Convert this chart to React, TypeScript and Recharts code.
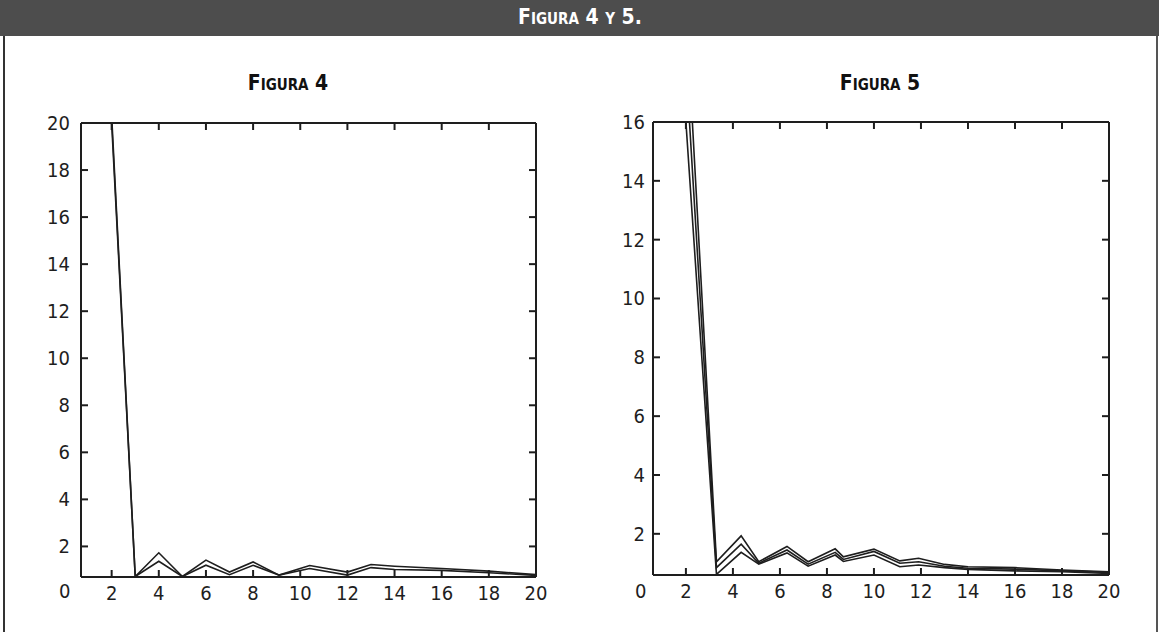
import React from 'react'
import { LineChart, Line, XAxis, YAxis } from 'recharts'

// Figura 4: two curves
const fig4Upper = [
  { x: 2, y: 20.3 }, { x: 3, y: 0.72 }, { x: 4, y: 1.73 }, { x: 5, y: 0.72 },
  { x: 6, y: 1.42 }, { x: 7, y: 0.91 }, { x: 8, y: 1.34 }, { x: 9.1, y: 0.78 },
  { x: 10.4, y: 1.19 }, { x: 12, y: 0.91 }, { x: 13, y: 1.23 }, { x: 14, y: 1.16 },
  { x: 16, y: 1.06 }, { x: 18, y: 0.95 }, { x: 20, y: 0.8 },
]
const fig4Lower = [
  { x: 2, y: 20 }, { x: 3, y: 0.72 }, { x: 4, y: 1.37 }, { x: 5, y: 0.72 },
  { x: 6, y: 1.2 }, { x: 7, y: 0.8 }, { x: 8, y: 1.2 }, { x: 9.1, y: 0.78 },
  { x: 10.4, y: 1.06 }, { x: 12, y: 0.78 }, { x: 13, y: 1.1 }, { x: 14, y: 1.02 },
  { x: 16, y: 0.98 }, { x: 18, y: 0.88 }, { x: 20, y: 0.77 },
]

// Figura 5: three curves
const fig5A = [
  { x: 2, y: 20 }, { x: 3.3, y: 1.05 }, { x: 4.35, y: 1.93 }, { x: 5.1, y: 1.05 },
  { x: 6.3, y: 1.57 }, { x: 7.2, y: 1.05 }, { x: 8.35, y: 1.49 }, { x: 8.7, y: 1.22 },
  { x: 10, y: 1.48 }, { x: 11.1, y: 1.08 }, { x: 11.9, y: 1.17 }, { x: 13, y: 0.96 },
  { x: 14, y: 0.88 }, { x: 16, y: 0.85 }, { x: 18, y: 0.77 }, { x: 20, y: 0.71 },
]
const fig5B = [
  { x: 2, y: 18 }, { x: 3.3, y: 0.85 }, { x: 4.35, y: 1.65 }, { x: 5.1, y: 1.0 },
  { x: 6.3, y: 1.45 }, { x: 7.2, y: 0.97 }, { x: 8.35, y: 1.37 }, { x: 8.7, y: 1.13 },
  { x: 10, y: 1.4 }, { x: 11.1, y: 1.0 }, { x: 11.9, y: 1.05 }, { x: 13, y: 0.9 },
  { x: 14, y: 0.83 }, { x: 16, y: 0.8 }, { x: 18, y: 0.74 }, { x: 20, y: 0.69 },
]
const fig5C = [
  { x: 2, y: 16 }, { x: 3.3, y: 0.62 }, { x: 4.35, y: 1.37 }, { x: 5.1, y: 0.97 },
  { x: 6.3, y: 1.35 }, { x: 7.2, y: 0.9 }, { x: 8.35, y: 1.28 }, { x: 8.7, y: 1.06 },
  { x: 10, y: 1.28 }, { x: 11.1, y: 0.88 }, { x: 11.9, y: 0.94 }, { x: 13, y: 0.85 },
  { x: 14, y: 0.79 }, { x: 16, y: 0.74 }, { x: 18, y: 0.71 }, { x: 20, y: 0.65 },
]

const xTicks = [2, 4, 6, 8, 10, 12, 14, 16, 18, 20]
const yTicks4 = [2, 4, 6, 8, 10, 12, 14, 16, 18, 20]
const yTicks5 = [2, 4, 6, 8, 10, 12, 14, 16]

const INK = '#1e1e1e'
const FONT = '"DejaVu Sans", sans-serif'
const textStyle = { fontStretch: 'condensed' } as React.CSSProperties

const BottomTick = (props: any) => {
  const { x, y, payload } = props
  return (
    <g>
      <line x1={x} y1={y} x2={x} y2={y - 7} stroke={INK} strokeWidth={2} />
      <text x={x} y={y + 23} textAnchor="middle" fontSize={20} fontFamily={FONT} style={textStyle} fill={INK}>
        {payload.value}
      </text>
    </g>
  )
}
const TopTick = (props: any) => {
  const { x, y } = props
  return <line x1={x} y1={y} x2={x} y2={y + 7} stroke={INK} strokeWidth={2} />
}
const leftTick = (gap: number) => (props: any) => {
  const { x, y, payload } = props
  return (
    <g>
      <line x1={x} y1={y} x2={x + 7} y2={y} stroke={INK} strokeWidth={2} />
      <text x={x - gap} y={y + 7} textAnchor="end" fontSize={20} fontFamily={FONT} style={textStyle} fill={INK}>
        {payload.value}
      </text>
    </g>
  )
}
const RightTick = (props: any) => {
  const { x, y } = props
  return <line x1={x} y1={y} x2={x - 7} y2={y} stroke={INK} strokeWidth={2} />
}

function Frame({ xMin, yMin, yMax, yTicks, gap }: any) {
  return [
    <XAxis key="xb" xAxisId="b" type="number" dataKey="x" domain={[xMin, 20]} ticks={xTicks}
      allowDataOverflow height={1} tickSize={0} tickMargin={0} interval={0} tickLine={false}
      axisLine={{ stroke: INK, strokeWidth: 2 }} tick={BottomTick} />,
    <XAxis key="xt" xAxisId="t" orientation="top" type="number" dataKey="x" domain={[xMin, 20]} ticks={xTicks}
      allowDataOverflow height={1} tickSize={0} tickMargin={0} interval={0} tickLine={false}
      axisLine={{ stroke: INK, strokeWidth: 2 }} tick={TopTick} />,
    <YAxis key="yl" yAxisId="l" type="number" domain={[yMin, yMax]} ticks={yTicks}
      allowDataOverflow width={1} tickSize={0} tickMargin={0} interval={0} tickLine={false}
      axisLine={{ stroke: INK, strokeWidth: 2 }} tick={leftTick(gap)} />,
    <YAxis key="yr" yAxisId="r" orientation="right" type="number" domain={[yMin, yMax]} ticks={yTicks}
      allowDataOverflow width={1} tickSize={0} tickMargin={0} interval={0} tickLine={false}
      axisLine={{ stroke: INK, strokeWidth: 2 }} tick={RightTick} />,
  ]
}

const titleStyle: React.CSSProperties = {
  position: 'absolute',
  fontFamily: FONT,
  fontStretch: 'condensed',
  fontWeight: 700,
  fontVariant: 'small-caps',
  whiteSpace: 'nowrap',
  transform: 'translateX(-50%)',
}

export default function App() {
  const lineProps = {
    type: 'linear' as const,
    dataKey: 'y',
    stroke: INK,
    strokeWidth: 1.6,
    dot: false,
    isAnimationActive: false,
    xAxisId: 'b',
    yAxisId: 'l',
  }
  return (
    <div style={{ position: 'absolute', left: 0, top: 0, width: 1159, height: 632, background: '#fff', overflow: 'hidden' }}>
      {/* header bar */}
      <div style={{ position: 'absolute', left: 0, top: 0, width: 1159, height: 36, background: '#4d4d4d' }} />
      <div style={{ ...titleStyle, left: 580, top: 5, color: '#fff', fontSize: 21 }}>Figura 4 y 5.</div>
      {/* panel border */}
      <div style={{ position: 'absolute', left: 3, top: 36, width: 1151, height: 600, borderLeft: '2px solid #333', borderRight: '2px solid #555' }} />

      <div style={{ ...titleStyle, left: 288, top: 71, color: '#111', fontSize: 21 }}>Figura 4</div>
      <div style={{ ...titleStyle, left: 880, top: 71, color: '#111', fontSize: 21 }}>Figura 5</div>

      <div style={{ position: 'absolute', left: 0, top: 0 }}>
        <LineChart width={600} height={632} margin={{ top: 122, left: 80, right: 63, bottom: 54 }}>
          {Frame({ xMin: 0.7, yMin: 0.7, yMax: 20, yTicks: yTicks4, gap: 11 })}
          <Line {...lineProps} data={fig4Upper} />
          <Line {...lineProps} data={fig4Lower} />
        </LineChart>
      </div>
      <div style={{ position: 'absolute', left: 580, top: 0 }}>
        <LineChart width={579} height={632} margin={{ top: 121, left: 72, right: 49, bottom: 56 }}>
          {Frame({ xMin: 0.6, yMin: 0.6, yMax: 16, yTicks: yTicks5, gap: 8 })}
          <Line {...lineProps} data={fig5A} />
          <Line {...lineProps} data={fig5B} />
          <Line {...lineProps} data={fig5C} />
        </LineChart>
      </div>

      <div style={{ position: 'absolute', left: 59, top: 579, fontFamily: FONT, fontStretch: 'condensed', fontSize: 20, color: INK }}>0</div>
      <div style={{ position: 'absolute', left: 635, top: 579, fontFamily: FONT, fontStretch: 'condensed', fontSize: 20, color: INK }}>0</div>
    </div>
  )
}
